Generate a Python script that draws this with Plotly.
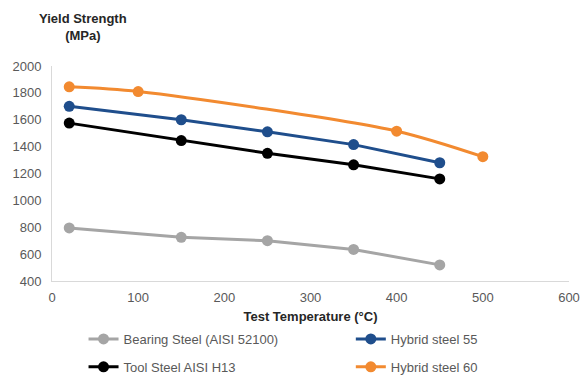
import plotly.graph_objects as go

# Yield strength (MPa) versus test temperature (°C)
bearing_temp = [20, 150, 250, 350, 450]
bearing_ys = [795, 725, 700, 635, 520]

tool_temp = [20, 150, 250, 350, 450]
tool_ys = [1575, 1445, 1350, 1265, 1160]

hybrid55_temp = [20, 150, 250, 350, 450]
hybrid55_ys = [1700, 1600, 1510, 1415, 1280]

hybrid60_temp = [20, 100, 400, 500]
hybrid60_ys = [1845, 1810, 1515, 1325]

x_ticks = [0, 100, 200, 300, 400, 500, 600]
y_ticks = [400, 600, 800, 1000, 1200, 1400, 1600, 1800, 2000]

FONT = "Liberation Sans, Arial, sans-serif"
TICK_COLOR = "#595959"
SIZE = 13

fig = go.Figure()

series = [
    ("Bearing Steel (AISI 52100)", bearing_temp, bearing_ys, "#A5A5A5", "linear", "legend", "g1"),
    ("Tool Steel AISI H13", tool_temp, tool_ys, "#000000", "linear", "legend", "g2"),
    ("Hybrid steel 55", hybrid55_temp, hybrid55_ys, "#1F4E8C", "linear", "legend2", "g3"),
    ("Hybrid steel 60", hybrid60_temp, hybrid60_ys, "#F28A30", "spline", "legend2", "g4"),
]

for name, xs, ys, color, shape, leg, grp in series:
    fig.add_trace(go.Scatter(
        x=xs, y=ys, name=name, mode="lines+markers",
        line=dict(color=color, width=3, shape=shape, smoothing=0.8),
        marker=dict(color=color, size=11),
        legend=leg, legendgroup=grp,
    ))

legend_common = dict(
    orientation="v", yanchor="top", xanchor="left",
    font=dict(family=FONT, size=SIZE, color=TICK_COLOR),
    tracegroupgap=8, itemwidth=30, bgcolor="rgba(0,0,0,0)",
)

fig.update_layout(
    width=582, height=376,
    margin=dict(l=52, r=13, t=66, b=95, autoexpand=False),
    paper_bgcolor="white", plot_bgcolor="white",
    font=dict(family=FONT, size=SIZE, color=TICK_COLOR),
    xaxis=dict(
        range=[0, 600], tickvals=x_ticks, ticks="", showgrid=False,
        showline=True, linecolor="#D9D9D9", linewidth=1, zeroline=False,
        tickfont=dict(family=FONT, size=SIZE, color=TICK_COLOR),
        ticklabelstandoff=4,
        title=dict(text="<b>Test Temperature (°C)</b>", standoff=8,
                   font=dict(family=FONT, size=SIZE, color="#262626")),
    ),
    yaxis=dict(
        range=[400, 2000], tickvals=y_ticks, ticks="", showgrid=False,
        showline=True, linecolor="#D9D9D9", linewidth=1, zeroline=False,
        tickfont=dict(family=FONT, size=SIZE, color=TICK_COLOR),
        ticklabelstandoff=7,
    ),
    showlegend=True,
    legend=dict(x=0.061, y=-0.2, **legend_common),
    legend2=dict(x=0.578, y=-0.2, **legend_common),
    annotations=[dict(
        text="<b>Yield Strength</b><br><b>(MPa)</b>",
        xref="paper", yref="paper", x=0.06, y=1.0, yshift=57,
        xanchor="center", yanchor="top", showarrow=False, align="center",
        font=dict(family=FONT, size=SIZE, color="#262626"),
    )],
)

fig.write_html("out.html")
